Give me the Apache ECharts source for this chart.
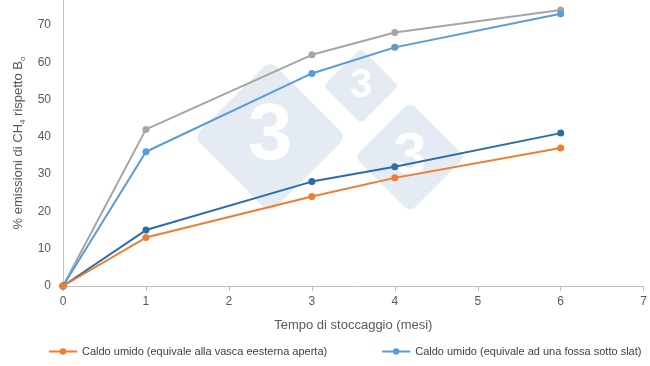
<!DOCTYPE html>
<html><head><meta charset="utf-8">
<script src="https://cdn.jsdelivr.net/npm/echarts@6/dist/echarts.min.js"></script>
<style>html,body{margin:0;padding:0;background:#fff}#c{width:650px;height:366px}</style>
</head><body><div id="c"></div>
<script>
const months = [0, 1, 3, 4, 6];
const seriesNames = [
  'Caldo umido (equivale alla vasca eesterna aperta)',
  'Caldo umido (equivale ad una fossa sotto slat)',
  'Serie 3',
  'Serie 4'
];
const orangeValues = [0, 13, 24, 29, 37];
const lightBlueValues = [0, 36, 57, 64, 73];
const grayValues = [0, 42, 62, 68, 74];
const darkBlueValues = [0, 15, 28, 32, 41];
const colors = ['#ED7D31', '#5B9BD5', '#A5A5A5', '#2E6CA8'];
const valuesList = [orangeValues, lightBlueValues, grayValues, darkBlueValues];
const xTicks = [0, 1, 2, 3, 4, 5, 6, 7];
const yTicks = [0, 10, 20, 30, 40, 50, 60, 70];

function diamond(cx, cy, side, fs) {
  return {
    type: 'group', x: cx, y: cy, z: 0, silent: true,
    children: [
      {type: 'rect', rotation: Math.PI / 4,
       shape: {x: -side / 2, y: -side / 2, width: side, height: side, r: side * 0.08},
       style: {fill: '#E5EBF3'}},
      {type: 'text',
       style: {text: '3', x: 0, y: 0, align: 'center', verticalAlign: 'middle',
               fontSize: fs, fontWeight: 'bold', fill: '#FFFFFF',
               fontFamily: 'Liberation Sans, Arial, sans-serif'}}
    ]
  };
}

const chart = echarts.init(document.getElementById('c'));
const drawOrder = [2, 1, 3, 0];
chart.setOption({
  animation: false,
  textStyle: {fontFamily: 'Liberation Sans, Arial, sans-serif'},
  grid: {left: 63, right: 2, top: 0, bottom: 80},
  graphic: [
    diamond(270, 137, 108, 80),
    diamond(361, 86, 53, 40),
    diamond(410, 157, 78, 60)
  ],
  legend: {
    data: [seriesNames[0], seriesNames[1]],
    left: 43, top: 341,
    itemWidth: 28, itemHeight: 8, itemGap: 54,
    textStyle: {fontSize: 11, color: '#404040'}
  },
  xAxis: {
    type: 'value', min: 0, max: 7, interval: 1,
    name: 'Tempo di stoccaggio (mesi)', nameLocation: 'middle', nameGap: 33,
    nameTextStyle: {fontSize: 13, color: '#595959'},
    axisLine: {lineStyle: {color: '#BFBFBF'}},
    axisTick: {show: true, length: 5, lineStyle: {color: '#BFBFBF'}},
    axisLabel: {fontSize: 12, color: '#595959', margin: 10},
    splitLine: {show: false}
  },
  yAxis: {
    type: 'value', min: 0, max: 76.7, interval: 10,
    name: '% emissioni di CH{s|4} rispetto B{s|o}', nameLocation: 'middle', nameGap: 36,
    nameTextStyle: {fontSize: 13, color: '#595959', rich: {s: {fontSize: 8, color: '#595959', padding: [0,0,-8,0]}}},
    axisLine: {show: true, lineStyle: {color: '#BFBFBF'}},
    axisTick: {show: false},
    axisLabel: {fontSize: 12, color: '#595959', margin: 12, showMaxLabel: false},
    splitLine: {show: false}
  },
  series: drawOrder.map(i => ({
    name: seriesNames[i],
    type: 'line',
    data: months.map((m, k) => [m, valuesList[i][k]]),
    color: colors[i],
    symbol: 'circle', symbolSize: 7,
    lineStyle: {width: 2},
    z: 2 + drawOrder.indexOf(i)
  }))
});
</script></body></html>
